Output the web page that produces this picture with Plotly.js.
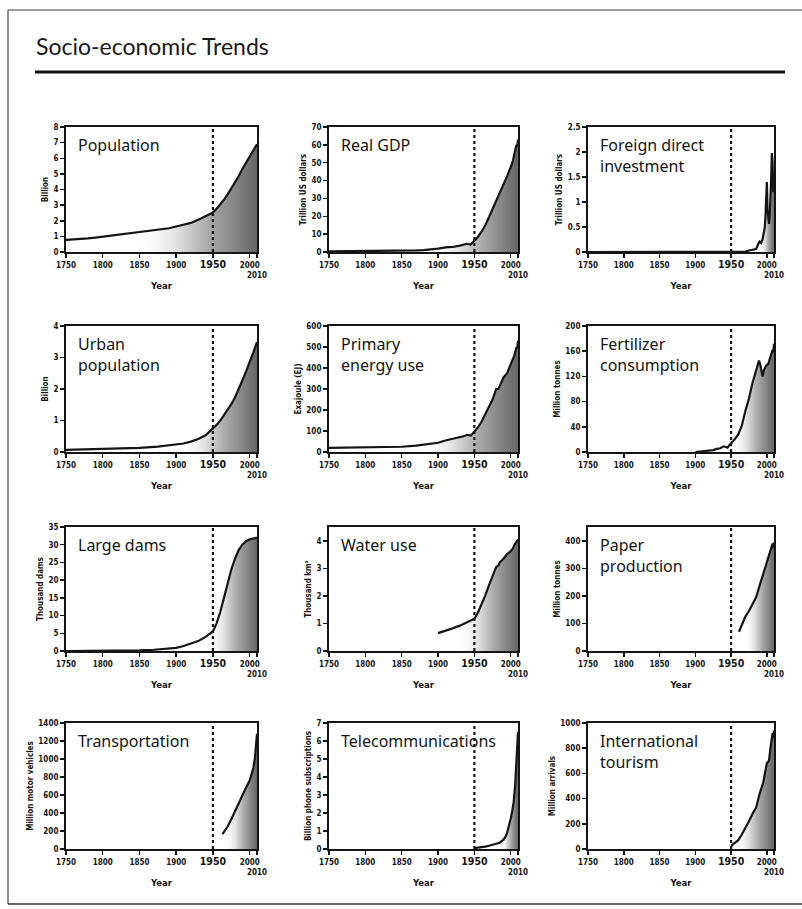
<!DOCTYPE html>
<html><head><meta charset="utf-8">
<script src="https://cdn.plot.ly/plotly-3.0.1.min.js"></script>
<style>html,body{margin:0;padding:0;background:#fff}#chart{width:802px;height:909px}</style>
</head><body><div id="chart"></div><script>
// ---------- data ----------
const xTickVals = [1750, 1800, 1850, 1900, 1950, 2000, 2010];
const xTickText = ['1750', '1800', '1850', '1900', '1950', '2000', '2010'];
const markerYear = 1950;

const popYears = [1750,1760,1770,1780,1790,1800,1810,1820,1830,1840,1850,1860,1870,1880,1890,1900,1910,1920,1930,1940,1950,1955,1960,1965,1970,1975,1980,1985,1990,1995,2000,2005,2010];
const popValues = [0.78,0.80,0.83,0.87,0.92,0.98,1.02,1.06,1.12,1.18,1.26,1.31,1.36,1.42,1.52,1.63,1.75,1.86,2.07,2.30,2.53,2.77,3.03,3.34,3.69,4.07,4.44,4.85,5.31,5.72,6.12,6.51,6.90];

const gdpYears = [1750,1800,1820,1850,1870,1880,1890,1900,1913,1920,1930,1940,1945,1950,1955,1960,1965,1970,1975,1980,1985,1990,1995,2000,2003,2005,2007,2008,2009,2010];
const gdpValues = [0.3,0.4,0.5,0.6,0.9,1.1,1.4,1.9,2.7,2.8,3.6,4.6,4.2,6.5,8.5,11.5,15,19.5,24,29,33,38,42.5,47.5,51,55,59,60,59,63];

const fdiYears = [1750,1970,1975,1980,1985,1988,1990,1992,1994,1995,1996,1997,1998,1999,2000,2001,2002,2003,2004,2005,2006,2007,2008,2009,2010];
const fdiValues = [0,0.01,0.03,0.05,0.06,0.16,0.21,0.18,0.25,0.33,0.39,0.48,0.69,1.08,1.40,0.83,0.62,0.56,0.73,0.98,1.46,1.98,1.80,1.20,1.30];

const urbanYears = [1750,1800,1850,1875,1900,1910,1920,1930,1940,1950,1955,1960,1965,1970,1975,1980,1985,1990,1995,2000,2005,2010];
const urbanValues = [0.07,0.09,0.13,0.17,0.23,0.27,0.33,0.41,0.53,0.73,0.86,1.0,1.16,1.33,1.52,1.73,1.98,2.27,2.55,2.84,3.16,3.49];

const energyYears = [1750,1800,1850,1870,1880,1890,1900,1910,1920,1930,1935,1940,1945,1950,1955,1960,1965,1970,1975,1980,1983,1985,1990,1995,2000,2005,2008,2009,2010];
const energyValues = [20,21,25,30,34,38,44,55,62,70,75,82,78,97,118,145,180,215,250,300,300,315,355,375,420,460,500,495,530];

const fertYears = [1900,1910,1920,1925,1930,1935,1940,1945,1950,1955,1960,1965,1970,1975,1980,1985,1989,1991,1994,1996,1999,2002,2005,2008,2009,2010];
const fertValues = [0,1,2,3,5,6,9,7,14,20,28,42,65,85,110,130,145,138,120,130,137,140,150,162,158,172];

const damsYears = [1750,1800,1820,1850,1870,1890,1900,1910,1920,1930,1940,1950,1955,1960,1965,1970,1975,1980,1985,1990,1995,2000,2005,2010];
const damsValues = [0,0.05,0.1,0.2,0.35,0.6,0.9,1.4,2.0,2.8,4.0,5.5,7.8,11,15,19,23,26,28.5,30,31,31.5,31.8,32];

const waterYears = [1900,1910,1920,1930,1940,1950,1955,1960,1965,1970,1975,1980,1983,1985,1990,1995,2000,2003,2005,2008,2010];
const waterValues = [0.65,0.73,0.82,0.92,1.05,1.17,1.40,1.70,2.02,2.38,2.72,3.05,3.10,3.22,3.35,3.52,3.62,3.72,3.85,3.95,4.05];

const paperYears = [1961,1965,1970,1975,1980,1985,1990,1995,2000,2005,2008,2009,2010];
const paperValues = [70,95,125,145,170,195,238,280,322,365,390,372,394];

const transportYears = [1963,1965,1970,1975,1980,1985,1990,1995,2000,2003,2005,2007,2009,2010];
const transportValues = [165,190,250,330,420,510,590,680,760,830,900,1000,1150,1280];

const telecomYears = [1950,1955,1960,1965,1970,1975,1980,1985,1990,1993,1995,1998,2000,2002,2004,2006,2008,2009,2010];
const telecomValues = [0.05,0.07,0.1,0.13,0.18,0.25,0.3,0.35,0.52,0.7,0.9,1.3,1.7,2.1,2.6,3.5,4.8,5.6,6.5];

const tourismYears = [1950,1955,1960,1965,1970,1975,1980,1985,1990,1995,2000,2003,2005,2008,2009,2010];
const tourismValues = [25,45,70,115,165,220,280,330,440,530,680,700,800,920,880,940];

const panelLabels = ['Population','Real GDP','Foreign direct<br>investment','Urban<br>population','Primary<br>energy use','Fertilizer<br>consumption','Large dams','Water use','Paper<br>production','Transportation','Telecommunications','International<br>tourism'];
const yTitles = ['Billion','Trillion US dollars','Trillion US dollars','Billion','Exajoule (EJ)','Million tonnes','Thousand dams','Thousand km³','Million tonnes','Million motor vehicles','Billion phone subscriptions','Million arrivals'];
const yTickVals = [
  [0,1,2,3,4,5,6,7,8],
  [0,10,20,30,40,50,60,70],
  [0,0.5,1,1.5,2,2.5],
  [0,1,2,3,4],
  [0,100,200,300,400,500,600],
  [0,40,80,120,160,200],
  [0,5,10,15,20,25,30,35],
  [0,1,2,3,4],
  [0,100,200,300,400],
  [0,200,400,600,800,1000,1200,1400],
  [0,1,2,3,4,5,6,7],
  [0,200,400,600,800,1000]
];
const yMax = [8,70,2.5,4,600,200,35,4.5,450,1400,7,1000];
const seriesX = [popYears,gdpYears,fdiYears,urbanYears,energyYears,fertYears,damsYears,waterYears,paperYears,transportYears,telecomYears,tourismYears];
const seriesY = [popValues,gdpValues,fdiValues,urbanValues,energyValues,fertValues,damsValues,waterValues,paperValues,transportValues,telecomValues,tourismValues];

// ---------- styling ----------
const W = 802, H = 909;
const colPx = [[66,257],[329,518],[588,774]];
const rowPx = [[127,252],[326,452],[527,651],[723,849]];
const gradStart = [1840,1885,1990,1900,1870,1950,1940,1925,1968,1965,1985,1955];
const tickFamily = "'Liberation Sans Narrow','DejaVu Sans Condensed','Liberation Sans',Arial,sans-serif";
const labelFamily = "'Noto Sans','Open Sans',sans-serif";
const ink = '#151515';

const data = [];
const layout = {
  width: W, height: H,
  margin: {l:0, r:0, t:0, b:0},
  paper_bgcolor: '#fff', plot_bgcolor: '#fff',
  showlegend: false,
  shapes: [], annotations: []
};

const xText = xTickText.map(t => t === '1950' ? '<span style="font-size:10.5px"><b>1950</b></span>' : (t === '2010' ? '<br><b>2010</b>' : '<b>' + t + '</b>'));

for (let i = 0; i < 12; i++) {
  const r = Math.floor(i / 3), c = i % 3;
  const sfx = i === 0 ? '' : String(i + 1);
  const xa = 'xaxis' + sfx, ya = 'yaxis' + sfx;
  layout[xa] = {
    domain: [colPx[c][0] / W, colPx[c][1] / W],
    anchor: 'y' + sfx,
    range: [1750, 2010],
    tickmode: 'array', tickvals: xTickVals, ticktext: xText, tickangle: 0,
    ticks: 'outside', ticklen: 4, tickwidth: 1.5, tickcolor: ink,
    showline: true, linewidth: 2, linecolor: ink, mirror: true,
    showgrid: false, zeroline: false, fixedrange: true,
    tickfont: {family: tickFamily, size: 8, color: ink},
    title: {text: '<b>Year</b>', font: {family: tickFamily, size: 9.5, color: ink}, standoff: 3}
  };
  layout[ya] = {
    domain: [1 - rowPx[r][1] / H, 1 - rowPx[r][0] / H],
    anchor: 'x' + sfx,
    range: [0, yMax[i]],
    tickmode: 'array', tickvals: yTickVals[i], ticktext: yTickVals[i].map(v => '<b>' + v + '</b>'),
    ticks: 'outside', ticklen: 4, tickwidth: 1.5, tickcolor: ink,
    showline: true, linewidth: 2, linecolor: ink, mirror: true,
    showgrid: false, zeroline: false, fixedrange: true,
    tickfont: {family: tickFamily, size: 8, color: ink},
    title: {text: '<b>' + yTitles[i] + '</b>', font: {family: tickFamily, size: 8, color: ink}, standoff: 4}
  };
  data.push({
    type: 'scatter', mode: 'lines',
    x: seriesX[i], y: seriesY[i],
    xaxis: 'x' + sfx, yaxis: 'y' + sfx,
    line: {color: ink, width: 2.2},
    fill: 'tozeroy',
    fillgradient: {
      type: 'horizontal', start: gradStart[i], stop: 2010,
      colorscale: [[0,'rgba(255,255,255,0)'],[0.35,'#e2e2e2'],[0.6,'#ababab'],[1,'#666666']]
    },
    hoverinfo: 'skip'
  });
  layout.shapes.push({
    type: 'line', layer: 'above',
    xref: 'x' + sfx, yref: 'y' + sfx + ' domain',
    x0: markerYear, x1: markerYear, y0: 0, y1: 1,
    line: {color: ink, width: 2.2, dash: 'dot'}
  });
  layout.annotations.push({
    xref: 'x' + sfx + ' domain', yref: 'y' + sfx + ' domain',
    x: 0, y: 1, xanchor: 'left', yanchor: 'top', xshift: 10, yshift: -5,
    align: 'left', showarrow: false,
    text: panelLabels[i],
    font: {family: labelFamily, size: 16, color: ink}
  });
}

// page title, rule and scan frame
layout.annotations.push({
  xref: 'paper', yref: 'paper', x: 34 / W, y: 1 - 46 / H,
  xanchor: 'left', yanchor: 'middle', showarrow: false,
  text: 'Socio-economic Trends',
  font: {family: "Lato,'Noto Sans',sans-serif", size: 23, color: '#1a1a1a'}
});
layout.shapes.push({type:'line', xref:'paper', yref:'paper', x0: 35/W, x1: 785/W, y0: 1-72/H, y1: 1-72/H, line:{color:'#111', width:3}});
layout.shapes.push({type:'line', xref:'paper', yref:'paper', x0: 8/W, x1: 8/W, y0: 1-10/H, y1: 1-904/H, line:{color:'#444', width:1.2}});
layout.shapes.push({type:'line', xref:'paper', yref:'paper', x0: 8/W, x1: 1, y0: 1-10/H, y1: 1-10/H, line:{color:'#444', width:1.2}});
layout.shapes.push({type:'line', xref:'paper', yref:'paper', x0: 8/W, x1: 1, y0: 1-904/H, y1: 1-904/H, line:{color:'#333', width:1.5}});

Plotly.newPlot('chart', data, layout, {displayModeBar: false, staticPlot: true});
</script></body></html>
